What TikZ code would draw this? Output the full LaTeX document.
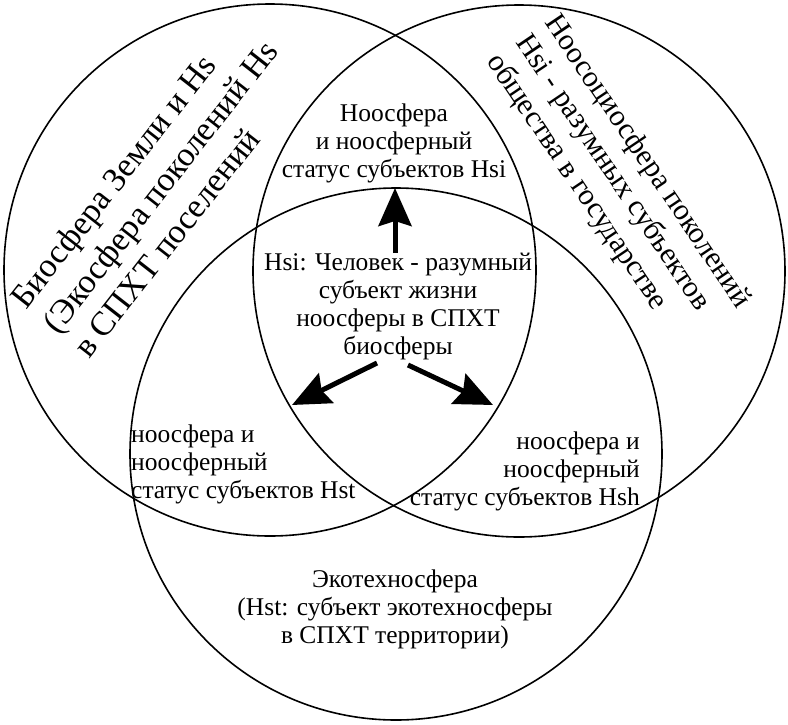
\documentclass[tikz,border=0pt]{standalone}
\usepackage{fontspec}
\setmainfont{Liberation Serif}
\usetikzlibrary{arrows.meta, positioning}

\begin{document}
\begin{tikzpicture}[x=1pt, y=-1pt,
		sphere/.style={circle, draw=black, line width=1.6pt, inner sep=0pt, minimum size=532pt},
		lenstext/.style={inner sep=0pt, font=\fontsize{25.5}{28}\selectfont},
		sidetext/.style={inner sep=0pt, align=left},
		push/.style={line width=5pt, -{Stealth[length=38pt, width=33pt, inset=5pt]}}
		]
		\useasboundingbox (0,0) rectangle (788,724);
		% the three spheres
		\node (bio) at (270, 270) [sphere] {};
		\node (noo) at (519, 271) [sphere] {};
		\node (eco) at (396, 454) [sphere] {};
		% texts along the rims
		\node (bio text) at (49, 328) [sidetext, rotate=52, anchor=west, font=\fontsize{34}{40}\selectfont] {Биосфера Земли и Hs\\(Экосфера поколений Hs\\в СПХТ поселений};
		\node (noo text) at (521, 38) [sidetext, rotate=-56, anchor=west, font=\fontsize{30}{35}\selectfont] {Ноосоциосфера поколений\\Hsi - разумных субъектов\\общества в государстве};
		% texts inside
		\node (top lens) at (394, 143) [lenstext, align=center] {Ноосфера\\и ноосферный\\статус субъектов Hsi};
		\node (human) at (398, 306) [lenstext, align=center] {Hsi: Человек - разумный\\субъект жизни\\ноосферы в СПХТ\\биосферы};
		\node (left lens) at (131, 464) [lenstext, align=left, anchor=west] {ноосфера и\\ноосферный\\статус субъектов Hst};
		\node (right lens) at (640, 471) [lenstext, align=right, anchor=east] {ноосфера и\\ноосферный\\статус субъектов Hsh};
		\node (eco text) at (395, 609) [lenstext, align=center] {Экотехносфера\\(Hst: субъект экотехносферы\\в СПХТ территории)};
		% arrows
		\coordinate (up tail) at (395, 253);
		\coordinate (up tip) at (395, 188);
		\coordinate (left tail) at (377, 363);
		\coordinate (left tip) at (292, 405);
		\coordinate (right tail) at (408, 365);
		\coordinate (right tip) at (493, 405);
		\draw[push] (up tail) -- (up tip);
		\draw[push] (left tail) -- (left tip);
		\draw[push] (right tail) -- (right tip);
	\end{tikzpicture}
\end{document}
